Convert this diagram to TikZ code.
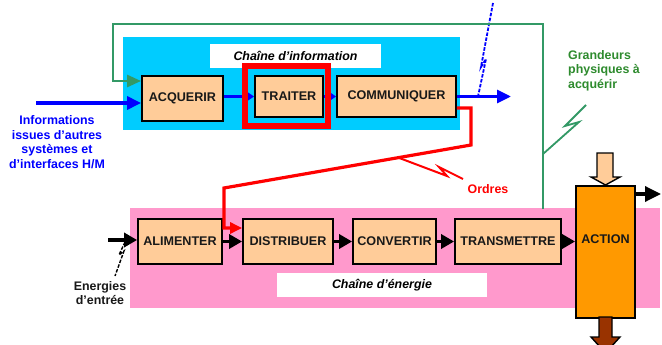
\documentclass[tikz,border=0pt]{standalone}
\usepackage{fontspec}
\setmainfont{Liberation Sans}
\usetikzlibrary{arrows.meta}
\definecolor{cyanbg}{HTML}{00CCFF}
\definecolor{peach}{HTML}{FFCC99}
\definecolor{pinkbg}{HTML}{FF99CC}
\definecolor{orangeact}{HTML}{FF9900}
\definecolor{brownout}{HTML}{993300}
\definecolor{gline}{HTML}{339966}
\definecolor{gtext}{HTML}{2E8B2E}
\begin{document}
\begin{tikzpicture}[x=1pt,y=-1pt,
  box/.style={draw=black,line width=1.8pt,fill=peach,inner sep=0pt,
    font=\fontsize{12.6}{14}\selectfont\bfseries,text=black!90},
  chainlabel/.style={fill=white,inner sep=0pt,font=\fontsize{12.4}{14}\selectfont\bfseries\itshape},
  txt/.style={inner sep=0pt,font=\fontsize{12.4}{14.5}\selectfont\bfseries},
  bline/.style={blue,line width=3.2pt},
  barrow/.style={black,line width=3.4pt,-{Triangle[length=13pt,width=14pt]}},
  gpath/.style={gline,line width=2.6pt},
  rpath/.style={red,line width=3.2pt},
  bolt/.style={line width=1.8pt,line join=miter},
]
\clip (0,0) rectangle (662,345);
\fill[white] (0,0) rectangle (662,345);

% backgrounds
\fill[cyanbg] (123,37) rectangle (460,130);
\fill[pinkbg] (130,208) rectangle (660,308);
\node[chainlabel,minimum width=171pt,minimum height=24pt] (ci) at (295.5,56) {Chaîne d’information};
\node[chainlabel,minimum width=210pt,minimum height=24pt] (ce) at (382,285) {Chaîne d’énergie};

% information chain boxes
\node[box,minimum width=81pt,minimum height=45pt] (acq) at (182.5,98.5) {ACQUERIR};
\node[box,minimum width=68pt,minimum height=41pt] (tra) at (289,96.5) {TRAITER};
\node[box,minimum width=119pt,minimum height=41pt] (com) at (396.5,96.5) {COMMUNIQUER};

% energy chain boxes
\node[box,minimum width=84pt,minimum height=45pt] (ali) at (180,241.5) {ALIMENTER};
\node[box,minimum width=90pt,minimum height=45pt] (dis) at (288,241.5) {DISTRIBUER};
\node[box,minimum width=83pt,minimum height=45pt] (con) at (394.5,241.5) {CONVERTIR};
\node[box,minimum width=106pt,minimum height=45pt] (tr2) at (508,241.5) {TRANSMETTRE};
\node[box,fill=orangeact,minimum width=59pt,minimum height=132pt,anchor=north] (act) at (605.5,185) {};
\node[txt,font=\fontsize{12.6}{14}\selectfont\bfseries,text=black!90] (actlbl) at (605.5,239) {ACTION};

% texts
\node[txt,text=blue,align=center] (info) at (57,142) {Informations\\issues d’autres\\systèmes et\\d’interfaces H/M};
\node[txt,text=gtext,align=left,anchor=west] (grand) at (568,70.5) {Grandeurs\\physiques à\\acquérir};
\node[txt,text=red] (ordres) at (488,189) {Ordres};
\node[txt,text=black!90,align=center] (energ) at (100,293) {Energies\\d’entrée};

% blue information flow
\coordinate (bin) at (36,103);
\coordinate (bout) at (511,96.5);
\draw[bline,-{Triangle[length=14pt,width=13pt]}] (bin) -- (bin -| acq.west);
\draw[bline,-{Triangle[length=8pt,width=10pt]}] (acq.east |- tra.west) -- (tra.west);
\draw[bline,-{Triangle[length=7pt,width=9pt]}] (tra.east) -- (com.west);
\draw[bline,-{Triangle[length=14pt,width=13pt]}] (com.east) -- (bout);

% red frame round TRAITER
\draw[red,line width=5.8pt] (245,66) rectangle (328,126);

% blue dashed lightning
\coordinate (bzA) at (493,3);
\coordinate (bzP1) at (481,67);
\coordinate (bzP2) at (486,59);
\coordinate (bzB) at (478,96.5);
\draw[blue,bolt,dash pattern=on 3.5pt off 1.5pt] (bzA) -- (bzP1) -- (bzP2) -- (bzB);

% green feedback
\coordinate (gb) at (543,209);
\coordinate (gtr) at (543,24);
\coordinate (gtl) at (113,24);
\coordinate (gy) at (113,81);
\draw[gpath,-{Triangle[length=14pt,width=12pt]}] (gb) -- (gtr) -- (gtl) -- (gy) -- (gy -| acq.west);
\coordinate (gzA) at (586,105);
\coordinate (gzP1) at (565,126);
\coordinate (gzP2) at (579,122);
\coordinate (gzB) at (543,154);
\draw[gline,bolt] (gzA) -- (gzP1) -- (gzP2) -- (gzB);

% red orders
\coordinate (r1) at (471,108);
\coordinate (r2) at (471,145);
\coordinate (r3) at (224,188);
\coordinate (r4) at (224,228);
\draw[rpath,-{Triangle[length=12pt,width=11pt]}] (com.east |- r1) -- (r1) -- (r2) -- (r3) -- (r4) -- (r4 -| dis.west);
\coordinate (rzA) at (398,157.5);
\coordinate (rzP1) at (447,176);
\coordinate (rzP2) at (439,167);
\coordinate (rzB) at (463,179);
\draw[red,bolt,line width=2pt] (rzA) -- (rzP1) -- (rzP2) -- (rzB);

% energy flow
\coordinate (ein) at (108,240);
\draw[barrow] (ein) -- (ein -| ali.west);
\draw[barrow] (ali.east) -- (dis.west);
\draw[barrow] (dis.east) -- (con.west);
\draw[barrow] (con.east) -- (tr2.west);
\draw[barrow] (tr2.east) -- (tr2.east -| act.west);
\coordinate (aout) at (661,194);
\draw[black,line width=3.4pt,-{Triangle[length=16pt,width=15pt]}] (aout -| act.east) -- (aout);
\coordinate (ezA) at (125,242);
\coordinate (ezP1) at (119,255);
\coordinate (ezP2) at (124,251);
\coordinate (ezB) at (115,276);
\draw[black,line width=1.4pt,dash pattern=on 3.5pt off 1.5pt] (ezA) -- (ezP1) -- (ezP2) -- (ezB);

% block arrows on ACTION
\draw[black,line width=1.4pt,fill=peach] (597,153) -- (613,153) -- (613,177) -- (620,177) -- (605.5,185) -- (591,177) -- (597,177) -- cycle;
\draw[black,line width=1.4pt,fill=brownout] (599,317) -- (599,337) -- (591,337) -- (605.5,353) -- (620,337) -- (612,337) -- (612,317) -- cycle;
\end{tikzpicture}
\end{document}
